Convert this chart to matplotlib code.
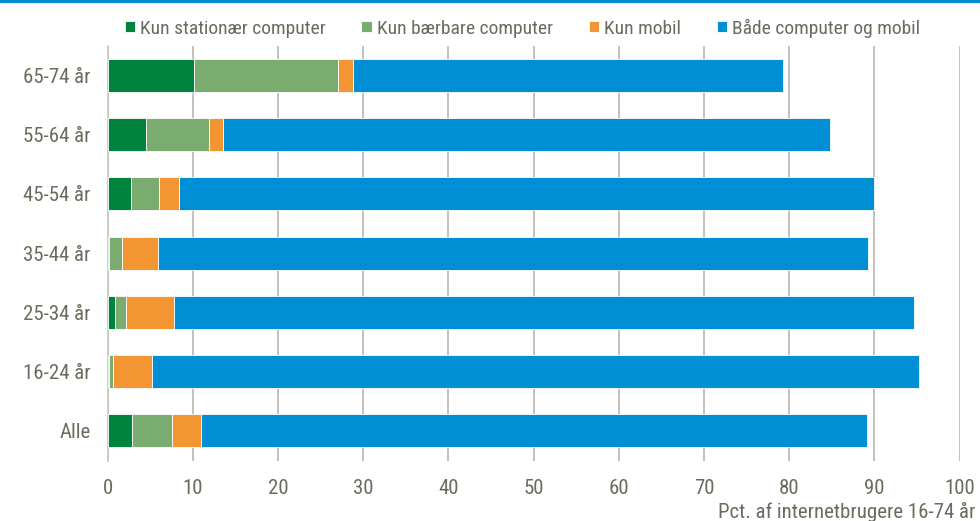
import matplotlib.pyplot as plt
from matplotlib import font_manager
import numpy as np

# values (pct. of internet users 16-74)
groups = ["65-74 år", "55-64 år", "45-54 år", "35-44 år", "25-34 år", "16-24 år", "Alle"]
stationaer = [10.2, 4.5, 2.7, 0.2, 0.9, 0.2, 2.9]
baerbar = [16.8, 7.4, 3.3, 1.5, 1.3, 0.5, 4.7]
mobil = [1.8, 1.7, 2.4, 4.2, 5.6, 4.5, 3.4]
begge = [50.5, 71.2, 81.6, 83.3, 86.9, 90.0, 78.1]

series = ["Kun stationær computer", "Kun bærbare computer", "Kun mobil", "Både computer og mobil"]
colors = ["#00843D", "#7AAB6F", "#F39533", "#008FD5"]

# look for a narrow font (reference uses something like Arial Narrow)
narrow = None
for pref in ["Liberation Sans Narrow", "Roboto Condensed", "Noto Sans", "Open Sans", "DejaVu Sans"]:
    for f in font_manager.fontManager.ttflist:
        if f.name.startswith(pref) and f.style == "normal" and f.weight in (400, "normal") \
                and ("condensed" in str(f.stretch) or "Narrow" in f.name):
            narrow = f
            break
    if narrow:
        break

if narrow:
    plt.rcParams["font.family"] = [narrow.name, "DejaVu Sans"]
    plt.rcParams["font.stretch"] = narrow.stretch
    fs, lfs = 15, 14
else:
    plt.rcParams["font.family"] = ["Liberation Sans", "DejaVu Sans"]
    fs, lfs = 12.5, 12
txt = "#6B6B5E"

fig = plt.figure(figsize=(9.8, 5.21), dpi=100)
ax = fig.add_axes([0.1097, 0.116, 0.8694, 0.7965])

y = np.arange(len(groups))
left = np.zeros(len(groups))
for vals, name, c in zip([stationaer, baerbar, mobil, begge], series, colors):
    ax.barh(y, vals, left=left, height=0.555, color=c, label=name,
            edgecolor="white", linewidth=0.6, zorder=3)
    left += np.array(vals)

ax.set_xlim(0, 100)
ax.set_ylim(len(groups) - 0.5, -0.5)
ax.set_yticks(y)
ax.set_yticklabels(groups)
ax.set_xticks(range(0, 101, 10))
ax.grid(axis="x", color="#B8B8AE", linewidth=1.2, zorder=0)
for s in ["top", "right", "bottom"]:
    ax.spines[s].set_visible(False)
ax.spines["left"].set_color("#C8C8C0")
ax.spines["left"].set_linewidth(1.2)
ax.tick_params(axis="both", length=0, labelsize=fs, colors=txt)
ax.tick_params(axis="x", pad=13)
ax.tick_params(axis="y", pad=12)

fig.text(0.995, -0.002, "Pct. af internetbrugere 16-74 år", ha="right", va="bottom",
         fontsize=fs, color=txt)

leg = fig.legend(loc="center", bbox_to_anchor=(0.533, 0.946), ncol=4, frameon=False,
                 fontsize=lfs, handlelength=0.52, handleheight=0.52, handletextpad=0.26,
                 columnspacing=1.85, labelcolor=txt, borderpad=0)

fig.add_artist(plt.Line2D([0, 1], [0.998, 0.998], color="#008FD5", linewidth=3,
                          transform=fig.transFigure))

fig.savefig("out.png", dpi=100)
